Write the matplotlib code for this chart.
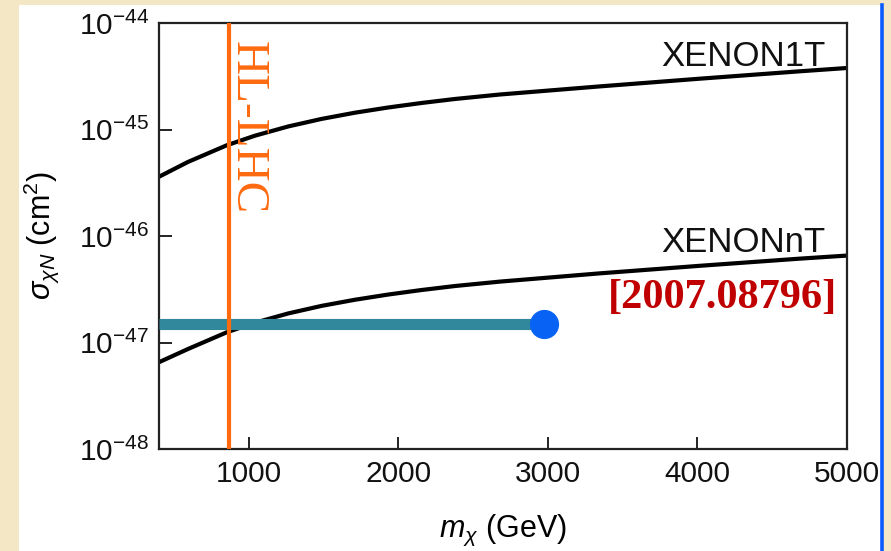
import numpy as np
import matplotlib.pyplot as plt
from matplotlib.patches import Rectangle
from matplotlib.lines import Line2D
from matplotlib.ticker import FixedLocator, FuncFormatter, NullLocator

# Data (GeV, cm^2)
mass = [400, 594, 853, 1042, 1265, 1487, 1710, 1932, 2155, 2378, 2679, 3348, 4016, 4685, 5000]
xenon1t = [3.60e-46, 4.96e-46, 7.11e-46, 8.75e-46, 1.069e-45, 1.257e-45, 1.438e-45, 1.609e-45,
           1.774e-45, 1.934e-45, 2.131e-45, 2.54e-45, 3.00e-45, 3.52e-45, 3.78e-45]
xenonnt = [6.53e-48, 8.69e-48, 1.247e-47, 1.535e-47, 1.876e-47, 2.207e-47, 2.52e-47, 2.82e-47,
           3.11e-47, 3.39e-47, 3.73e-47, 4.46e-47, 5.25e-47, 6.13e-47, 6.55e-47]

hl_lhc_mass = 865
reach_mass = [400, 2975]
reach_sigma = [1.5e-47, 1.5e-47]

x_ticks = [1000, 2000, 3000, 4000, 5000]
y_ticks = [1e-48, 1e-47, 1e-46, 1e-45, 1e-44]

plt.rcParams['mathtext.fontset'] = 'custom'
plt.rcParams['mathtext.rm'] = 'Liberation Sans'
plt.rcParams['mathtext.it'] = 'Liberation Sans:italic'
plt.rcParams['font.family'] = 'Liberation Sans'

fig = plt.figure(figsize=(8.91, 5.51), dpi=100)
fig.patch.set_facecolor('#f4e7c6')

# white slide panel with the blue edge on the right
W, H = 891, 551
fig.patches.append(Rectangle((19 / W, 0), (882 - 19) / W, 1 - 5 / H, transform=fig.transFigure,
                             facecolor='white', edgecolor='none', zorder=-10))
fig.lines.append(Line2D([882 / W, 882 / W], [0, 1 - 5 / H], transform=fig.transFigure,
                        color='#0b5cff', linewidth=2.6, zorder=-5))

ax = fig.add_axes([159 / W, 1 - 449 / H, (847 - 159) / W, (449 - 23) / H])
ax.set_facecolor('white')

ax.plot(mass, xenon1t, color='black', linewidth=3, zorder=2)
ax.plot(mass, xenonnt, color='black', linewidth=3, zorder=2)
ax.plot(reach_mass, reach_sigma, color='#31879c', linewidth=8, solid_capstyle='butt', zorder=3)
ax.axvline(hl_lhc_mass, color='#ff6a0f', linewidth=3, zorder=4)
ax.plot(reach_mass[-1], reach_sigma[-1], 'o', color='#0863f5', markersize=20, zorder=5)

ax.set_yscale('log')
ax.set_xlim(400, 5000)
ax.set_ylim(1e-48, 1e-44)

ax.xaxis.set_major_locator(FixedLocator(x_ticks))
ax.yaxis.set_major_locator(FixedLocator(y_ticks))
ax.yaxis.set_minor_locator(NullLocator())
ax.xaxis.set_minor_locator(NullLocator())
ax.yaxis.set_major_formatter(FuncFormatter(lambda v, _: r'$10^{%d}$' % round(np.log10(v))))
ax.tick_params(direction='in', length=9, width=1.4, color='#222222', labelsize=21.5,
               labelcolor='#111111', top=False, right=False)
ax.tick_params(axis='x', pad=8)
ax.tick_params(axis='y', pad=7)
for s in ax.spines.values():
    s.set_linewidth(1.6)
    s.set_color('#222222')

ax.set_xlabel(r'$m_\chi$ (GeV)', fontsize=22, labelpad=18)
ax.set_ylabel(r'$\sigma_{\chi N}$ (cm$^2$)', fontsize=22)
ax.yaxis.set_label_coords(-0.143, 0.5)

# curve labels
ax.text(0.968, 0.9, 'XENON1T', transform=ax.transAxes, ha='right', va='baseline',
        fontsize=25, color='#111111')
ax.text(0.969, 0.462, 'XENONnT', transform=ax.transAxes, ha='right', va='baseline',
        fontsize=25, color='#111111')
ax.text(0.986, 0.331, '[2007.08796]', transform=ax.transAxes, ha='right', va='baseline',
        fontsize=30.5, color='#c00000', fontweight='bold', family='Liberation Serif')
ax.text(0.128, 0.755, 'HL-LHC', transform=ax.transAxes, ha='center', va='center',
        rotation=-90, rotation_mode='anchor', fontsize=34, color='#ff6a0f',
        family='Liberation Serif')

plt.savefig('out.png', dpi=100, facecolor=fig.get_facecolor())
